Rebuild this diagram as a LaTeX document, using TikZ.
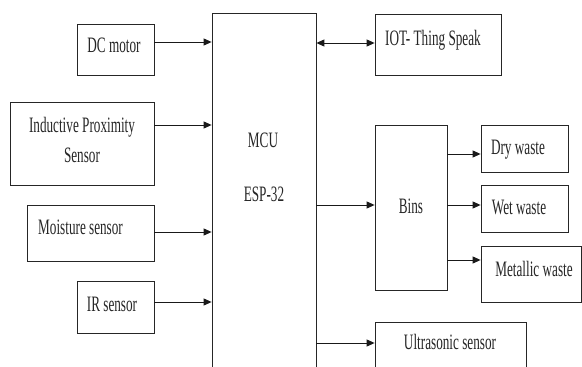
\documentclass[tikz,border=0pt]{standalone}
\usepackage{fontspec}
\setmainfont{Liberation Serif}[FakeStretch=0.6]
\usetikzlibrary{arrows.meta}
\begin{document}
\begin{tikzpicture}[x=1pt,y=-1pt,
  box/.style={draw=black!85, line width=0.8pt, inner sep=0pt, fill=none},
  txt/.style={inner sep=0pt, anchor=base, text=black!85, font=\fontsize{22}{30}\selectfont},
  arr/.style={draw=black!90, line width=0.9pt, -{Triangle[length=8pt,width=7pt]}},
  darr/.style={draw=black!90, line width=0.9pt, {Triangle[length=8pt,width=7pt]}-{Triangle[length=8pt,width=7pt]}}]
\path[use as bounding box, fill=white] (0,0) rectangle (582,367);
\clip (0,0) rectangle (582,367);
% boxes
\node[box, minimum width=77pt, minimum height=51pt] (dc) at (115.5,49.5) {};
\node[box, minimum width=144pt, minimum height=83pt] (ind) at (82,143.5) {};
\node[box, minimum width=127pt, minimum height=56pt] (moist) at (90.5,233) {};
\node[box, minimum width=77pt, minimum height=52pt] (ir) at (115.5,307) {};
\node[box, minimum width=104pt, minimum height=387pt] (mcu) at (264,206.5) {};
\node[box, minimum width=126pt, minimum height=61pt] (iot) at (438,44.5) {};
\node[box, minimum width=72pt, minimum height=165pt] (bins) at (411,207.5) {};
\node[box, minimum width=87pt, minimum height=47pt] (dry) at (524.5,148.5) {};
\node[box, minimum width=87pt, minimum height=47pt] (wet) at (524.5,208.5) {};
\node[box, minimum width=100pt, minimum height=56pt] (metal) at (531,274) {};
\node[box, minimum width=151pt, minimum height=78pt] (ultra) at (450.5,361) {};
% texts
\node[txt] (dct) at (114,52) {DC motor};
\node[txt, align=center] (indt) at (82,162) {Inductive Proximity\\Sensor};
\node[txt, anchor=base west] (moistt) at (38,234) {Moisture sensor};
\node[txt] (irt) at (112,311) {IR sensor};
\node[txt] (mcut) at (263,147) {MCU};
\node[txt] (espt) at (264,201) {ESP-32};
\node[txt, anchor=base west] (iott) at (385,45) {IOT- Thing Speak};
\node[txt] (binst) at (411,213) {Bins};
\node[txt] (dryt) at (518,154) {Dry waste};
\node[txt] (wett) at (519,214) {Wet waste};
\node[txt] (metalt) at (534,276) {Metallic waste};
\node[txt] (ultrat) at (450,349) {Ultrasonic sensor};
% connector anchors
\coordinate (dcA) at ([yshift=7.5pt]dc.east);
\coordinate (indA) at ([yshift=18.5pt]ind.east);
\coordinate (moistA) at ([yshift=1pt]moist.east);
\coordinate (irA) at ([yshift=5pt]ir.east);
\coordinate (iotA) at ([yshift=1.5pt]iot.west);
\coordinate (binsA) at ([yshift=2.5pt]bins.west);
\coordinate (dryA) at ([yshift=-5.5pt]dry.west);
\coordinate (wetA) at ([yshift=3.5pt]wet.west);
\coordinate (metalA) at ([yshift=14pt]metal.west);
\coordinate (ultraA) at ([yshift=18pt]ultra.west);
% connectors
\draw[arr] (dcA) -- (dcA -| mcu.west);
\draw[arr] (indA) -- (indA -| mcu.west);
\draw[arr] (moistA) -- (moistA -| mcu.west);
\draw[arr] (irA) -- (irA -| mcu.west);
\draw[darr] (iotA -| mcu.east) -- (iotA);
\draw[arr] (binsA -| mcu.east) -- (binsA);
\draw[arr] (ultraA -| mcu.east) -- (ultraA);
\draw[arr] (dryA -| bins.east) -- (dryA);
\draw[arr] (wetA -| bins.east) -- (wetA);
\draw[arr] (metalA -| bins.east) -- (metalA);
\end{tikzpicture}
\end{document}
